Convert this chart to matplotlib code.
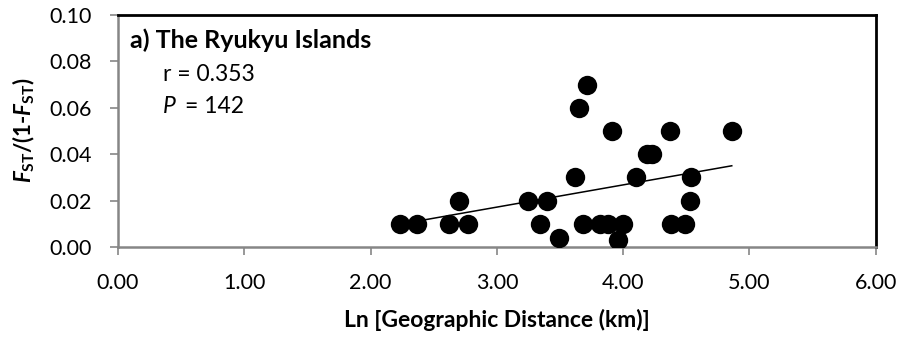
import numpy as np
import matplotlib
matplotlib.use("Agg")
import matplotlib.pyplot as plt

plt.rcParams['font.family'] = ['Lato', 'DejaVu Sans']
# mathtext is only used for the bold y-axis label
plt.rcParams['mathtext.fontset'] = 'custom'
plt.rcParams['mathtext.rm'] = 'Lato:bold'
plt.rcParams['mathtext.it'] = 'Lato:bold:italic'
plt.rcParams['mathtext.bf'] = 'Lato:bold'

# Ln geographic distance and pairwise FST/(1-FST)
ln_distance = [2.23, 2.37, 2.62, 2.77, 3.34, 3.68, 3.82, 3.88, 4.00, 4.38, 4.49,
               2.70, 3.25, 3.40, 4.53,
               3.49, 3.96,
               3.62, 4.10, 4.54,
               4.19, 4.23,
               3.91, 4.37, 4.86,
               3.65, 3.71]
fst_ratio = [0.01, 0.01, 0.01, 0.01, 0.01, 0.01, 0.01, 0.01, 0.01, 0.01, 0.01,
             0.02, 0.02, 0.02, 0.02,
             0.004, 0.003,
             0.03, 0.03, 0.03,
             0.04, 0.04,
             0.05, 0.05, 0.05,
             0.06, 0.07]

x_ticks = [0, 1, 2, 3, 4, 5, 6]
y_ticks = [0.00, 0.02, 0.04, 0.06, 0.08, 0.10]

W, H = 903, 339
fig = plt.figure(figsize=(W / 100, H / 100), dpi=100)
ax = fig.add_axes([0.1307, 0.2714, 0.8391, 0.6844])

x = np.array(ln_distance)
y = np.array(fst_ratio)
ax.scatter(x, y, s=195, color='black', zorder=3, linewidths=0)

# least-squares trend line across the range of the data
slope, intercept = np.polyfit(x, y, 1)
xl = np.array([x.min(), x.max()])
ax.plot(xl, slope * xl + intercept, color='black', lw=1.1, zorder=2)

ax.set_xlim(0, 6)
ax.set_ylim(0, 0.10)
ax.set_xticks(x_ticks)
ax.set_xticklabels([f"{v:.2f}" for v in x_ticks])
ax.set_yticks(y_ticks)
ax.set_yticklabels([f"{v:.2f}" for v in y_ticks])

for side in ('left', 'bottom'):
    ax.spines[side].set_color('#868686')
    ax.spines[side].set_linewidth(1.8)
for side in ('top', 'right'):
    ax.spines[side].set_color('black')
    ax.spines[side].set_linewidth(2.0)

ax.tick_params(axis='both', direction='out', length=6, width=1.2,
               color='#868686', labelsize=15.5, labelcolor='black')
ax.tick_params(axis='x', pad=13)
ax.tick_params(axis='y', pad=13)

fig.text(0.5 * (0.1307 + 0.9698), 0.035, 'Ln [Geographic Distance (km)]',
         fontsize=16.5, fontweight='bold', ha='center', va='baseline')
fig.text(24 / W, 0.6144,
         r'$F_{\mathrm{ST}}$/(1-$F_{\mathrm{ST}}$)',
         fontsize=16, fontweight='bold', rotation=90, ha='center', va='center')

ax.text(0.016, 0.858, 'a) The Ryukyu Islands', transform=ax.transAxes,
        fontsize=18, fontweight='bold', va='baseline', ha='left')
ax.text(0.059, 0.714, 'r = 0.353', transform=ax.transAxes,
        fontsize=16.5, va='baseline', ha='left')
ax.text(0.059, 0.577, 'P', transform=ax.transAxes, fontstyle='italic',
        fontsize=16.5, va='baseline', ha='left')
ax.text((185 - 118) / 757.7, 0.577, '= 142', transform=ax.transAxes,
        fontsize=16.5, va='baseline', ha='left')

fig.savefig('out.png', dpi=100)
